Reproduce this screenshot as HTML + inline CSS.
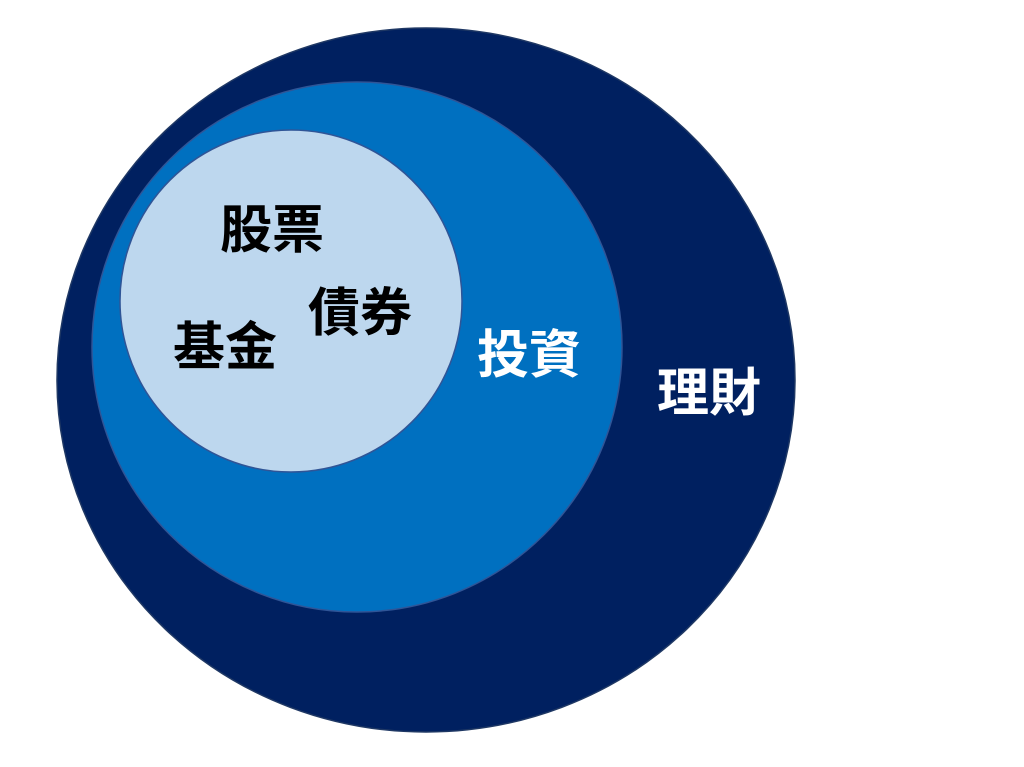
<!DOCTYPE html>
<html><head><meta charset="utf-8"><style>
html,body{margin:0;padding:0;background:#fff;}
body{width:1024px;height:767px;overflow:hidden;}
</style></head><body>
<svg width="1024" height="767" xmlns="http://www.w3.org/2000/svg" style="display:block">
<ellipse cx="426" cy="380" rx="369" ry="352" fill="#002060" stroke="#1f3864" stroke-width="1.5"/>
<circle cx="357" cy="347" r="265" fill="#0070c0" stroke="#2f5597" stroke-width="1.5"/>
<circle cx="291" cy="301" r="171" fill="#bdd7ee" stroke="#2f5597" stroke-width="1.5"/>
<g font-family="'Liberation Sans','Noto Sans CJK TC','Noto Sans CJK SC',sans-serif" font-weight="bold" font-size="52">
<text x="220" y="248" fill="#000">股票</text>
<text x="308" y="331" fill="#000">債券</text>
<text x="173" y="365" fill="#000">基金</text>
<text x="477" y="373" fill="#fff">投資</text>
<text x="657" y="411" fill="#fff">理財</text>
</g>
</svg>
</body></html>
